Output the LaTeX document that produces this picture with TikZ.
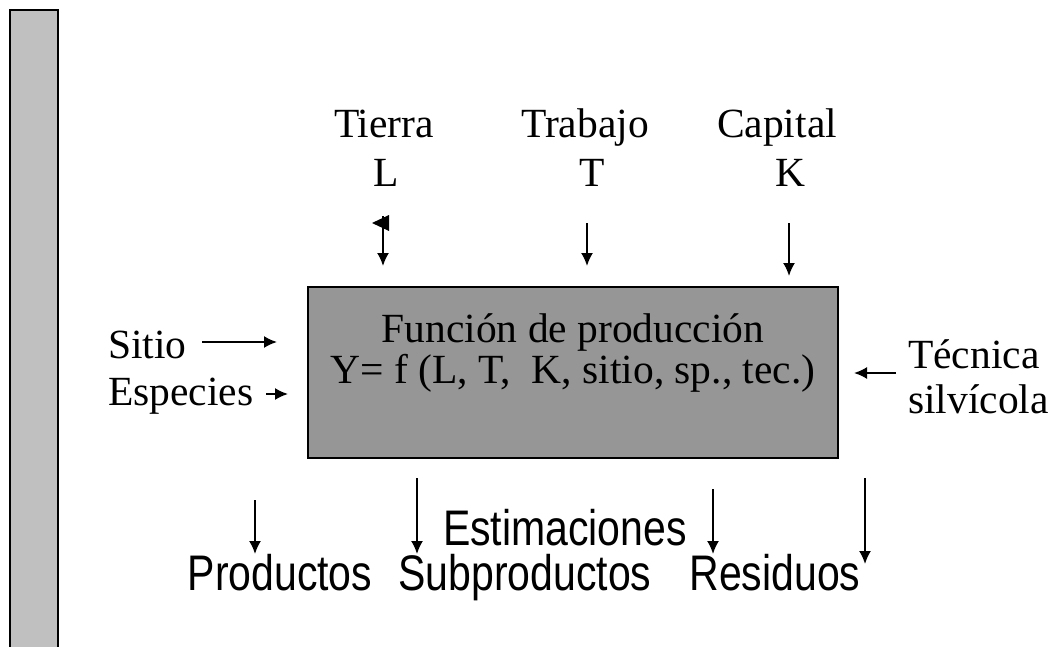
\documentclass[tikz,border=0pt]{standalone}
\usepackage{fontspec}
\setmainfont{Liberation Serif}
\newfontfamily\arialfont[FakeStretch=0.82]{Liberation Sans}
\usetikzlibrary{arrows.meta,positioning}
\definecolor{boxgray}{RGB}{150,150,150}
\definecolor{bargray}{RGB}{192,192,192}

\begin{document}
\begin{tikzpicture}[x=1pt, y=-1pt]
\tikzset{
    mytext/.style={inner sep=0pt, font=\fontsize{41.5}{50}\selectfont},
    mysans/.style={inner sep=0pt, font=\arialfont\fontsize{50}{60}\selectfont},
    mybox/.style={rectangle, draw=black, fill=boxgray, line width=1.5pt, minimum width=530pt, minimum height=171pt, inner sep=0pt},
    myarrow/.style={-{Latex[length=13pt,width=12pt]}, line width=1.8pt}
}
\useasboundingbox (0,0) rectangle (1059,647);
% grey bar on the left, open at the bottom
\fill[bargray] (10,10) rectangle (58,650);
\draw[line width=1.5pt] (10,650) -- (10,10) -- (58,10) -- (58,650);

\node[mybox] (prod) at (573,372.5) {};
\node[mytext, anchor=base] (prodtitle) at (573,342) {Función de producción};
\node[mytext, anchor=base] (prodformula) at (573,383) {Y= f (L, T,\ \ K, sitio, sp., tec.)};

\node[mytext, anchor=base] (tierra) at (384,138) {Tierra};
\node[mytext, anchor=base] (tierraL) at (386,186) {L};
\node[mytext, anchor=base] (trabajo) at (585,138) {Trabajo};
\node[mytext, anchor=base] (trabajoT) at (592,186) {T};
\node[mytext, anchor=base] (capital) at (777,138) {Capital};
\node[mytext, anchor=base] (capitalK) at (790,186) {K};

\node[mytext, anchor=base west] (sitio) at (108,358) {Sitio};
\node[mytext, anchor=base west] (especies) at (108,405) {Especies};
\node[mytext, anchor=base west] (tecnica) at (908,368) {Técnica};
\node[mytext, anchor=base west] (silvicola) at (908,413) {silvícola};

\node[mysans, anchor=base] (estim) at (565,545) {Estimaciones};
\node[mysans, anchor=base] (productos) at (280,590) {Productos};
\node[mysans, anchor=base] (subprod) at (525,590) {Subproductos};
\node[mysans, anchor=base] (residuos) at (775,590) {Residuos};

% arrow ends
\coordinate (Ls) at (383,216);   \coordinate (Le) at (383,266);
\coordinate (Ts) at (587,223);   \coordinate (Te) at (587,266);
\coordinate (Ks) at (789,223);   \coordinate (Ke) at (789,276);
\coordinate (Ss) at (202,342);   \coordinate (Se) at (277,342);
\coordinate (Es) at (266,394);   \coordinate (Ee) at (288,394);
\coordinate (Cs) at (896,373);   \coordinate (Ce) at (854,373);
\coordinate (P1s) at (255,500);  \coordinate (P1e) at (255,554);
\coordinate (P2s) at (417,478);  \coordinate (P2e) at (417,554);
\coordinate (P3s) at (713,489);  \coordinate (P3e) at (713,554);
\coordinate (P4s) at (865,478);  \coordinate (P4e) at (865,564);

\draw[myarrow] (Ls) -- (Le);
\fill (389,215) -- (389,231) -- (372,223) -- cycle;
\draw[myarrow] (Ts) -- (Te);
\draw[myarrow] (Ks) -- (Ke);
\draw[myarrow] (Ss) -- (Se);
\draw[myarrow] (Es) -- (Ee);
\draw[myarrow] (Cs) -- (Ce);
\draw[myarrow] (P1s) -- (P1e);
\draw[myarrow] (P2s) -- (P2e);
\draw[myarrow] (P3s) -- (P3e);
\draw[myarrow] (P4s) -- (P4e);

\end{tikzpicture}
\end{document}
